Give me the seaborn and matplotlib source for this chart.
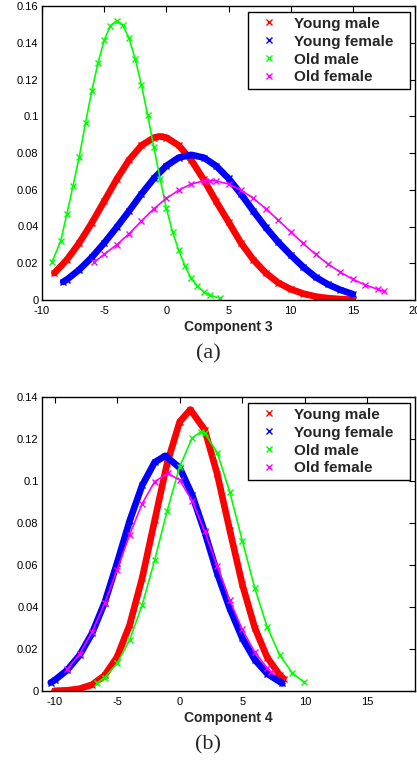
import matplotlib
matplotlib.use("Agg")
import matplotlib.pyplot as plt
from matplotlib.lines import Line2D
import pandas as pd
import seaborn as sns

groups = ["Young male", "Young female", "Old male", "Old female"]
colors = ["#ff0000", "#0000ff", "#00ff00", "#ff00ff"]

# (a) Component 3
a_ym_x = [-9, -8, -7, -6, -5, -4, -3, -2, -1, -0.5, 0, 1, 2, 3, 4, 5, 6, 7, 8, 9, 10, 11, 12, 13, 14, 15]
a_ym_y = [0.0147, 0.0219, 0.0311, 0.0419, 0.0537, 0.0656, 0.0762, 0.0841, 0.0884, 0.089, 0.0884, 0.0841, 0.0762,
          0.0656, 0.0537, 0.0425, 0.0311, 0.0219, 0.0147, 0.0094, 0.0059, 0.0035, 0.0019, 0.0010, 0.0005, 0.0002]
a_yf_x = [-8.3, -8, -7, -6, -5, -4, -3, -2, -1, 0, 1, 2, 3, 4, 5, 6, 7, 8, 9, 10, 11, 12, 13, 14, 15]
a_yf_y = [0.0099, 0.0111, 0.0165, 0.0232, 0.0310, 0.0395, 0.0484, 0.0577, 0.0662, 0.0730, 0.0775, 0.0790, 0.0775,
          0.0730, 0.0662, 0.0577, 0.0484, 0.0395, 0.0315, 0.0245, 0.0180, 0.0125, 0.0085, 0.0055, 0.0032]
a_om_x = [-9.2, -8.5, -8, -7.5, -7, -6.5, -6, -5.5, -5, -4.5, -4, -3.5, -3, -2.5, -2, -1.5, -1, -0.5, 0,
          0.5, 1, 1.5, 2, 2.5, 3, 3.5, 4.3]
a_om_y = [0.0205, 0.0320, 0.0468, 0.0623, 0.0780, 0.0964, 0.1136, 0.1290, 0.1413, 0.1493, 0.152, 0.1495, 0.1425,
          0.1310, 0.1170, 0.1005, 0.0830, 0.0660, 0.0500, 0.0370, 0.0270, 0.0185, 0.0118, 0.0075, 0.0045, 0.0027, 0.0010]
a_of_x = [-5.8, -5, -4, -3, -2, -1, 0, 1, 2, 3, 3.5, 4, 5, 6, 7, 8, 9, 10, 11, 12, 13, 14, 15, 16, 17, 17.5]
a_of_y = [0.0206, 0.0249, 0.0300, 0.0360, 0.0430, 0.0497, 0.0553, 0.0598, 0.0631, 0.0648, 0.065, 0.0648, 0.0631,
          0.0598, 0.0553, 0.0497, 0.0435, 0.0371, 0.0308, 0.0249, 0.0196, 0.0151, 0.0113, 0.0082, 0.0058, 0.0048]

# (b) Component 4
b_ym_x = [-10, -9, -8, -7, -6, -5, -4, -3, -2, -1, 0, 0.85, 2, 3, 4, 5, 6, 7, 8, 8.3]
b_ym_y = [0.0001, 0.0003, 0.0011, 0.0030, 0.0074, 0.0162, 0.0314, 0.0537, 0.0812, 0.1085, 0.1282, 0.134,
          0.1244, 0.1033, 0.0766, 0.0508, 0.0301, 0.0159, 0.0075, 0.0059]
b_yf_x = [-10.3, -10, -9, -8, -7, -6, -5, -4, -3, -2, -1.15, 0, 1, 2, 3, 4, 5, 6, 7, 8.2]
b_yf_y = [0.0040, 0.0051, 0.0099, 0.0170, 0.0275, 0.0420, 0.0610, 0.0810, 0.0979, 0.1089, 0.112, 0.1063,
          0.0933, 0.0757, 0.0560, 0.0393, 0.0252, 0.0149, 0.0082, 0.0036]
b_om_x = [-6.6, -6, -5, -4, -3, -2, -1, 0, 1, 1.7, 2, 3, 4, 5, 6, 7, 8, 9, 9.9]
b_om_y = [0.0039, 0.0064, 0.0131, 0.0243, 0.0409, 0.0623, 0.0858, 0.1069, 0.1205, 0.1235, 0.1229, 0.1135,
          0.0948, 0.0716, 0.0490, 0.0303, 0.0170, 0.0086, 0.0043]
b_of_x = [-9, -8, -7, -6, -5, -4, -3, -2, -0.95, 0, 1, 2, 3, 4, 5, 6, 7, 7.3]
b_of_y = [0.0103, 0.0176, 0.0281, 0.0417, 0.0577, 0.0744, 0.0892, 0.0997, 0.1037, 0.1004, 0.0905, 0.0760,
          0.0594, 0.0432, 0.0293, 0.0185, 0.0109, 0.0090]

a_xticks = [-10, -5, 0, 5, 10, 15, 20]
a_yticks = [0, 0.02, 0.04, 0.06, 0.08, 0.1, 0.12, 0.14, 0.16]
b_xticks = [-10, -5, 0, 5, 10, 15]
b_yticks = [0, 0.02, 0.04, 0.06, 0.08, 0.1, 0.12, 0.14]


def panel_frame(xs, ys):
    parts = [pd.DataFrame({"x": x, "y": y, "group": g}) for g, x, y in zip(groups, xs, ys)]
    return pd.concat(parts, ignore_index=True)


df_a = panel_frame([a_ym_x, a_yf_x, a_om_x, a_of_x], [a_ym_y, a_yf_y, a_om_y, a_of_y])
df_b = panel_frame([b_ym_x, b_yf_x, b_om_x, b_of_x], [b_ym_y, b_yf_y, b_om_y, b_of_y])

sns.set_style("white")
plt.rcParams["font.family"] = ["Liberation Sans", "DejaVu Sans"]


def draw(ax, df, xlim, ylim, xticks, yticks, xlabel):
    for g, c in zip(groups, colors):
        sub = df[df["group"] == g]
        lw = 4.8 if g.startswith("Young") else 1.2
        sns.lineplot(data=sub, x="x", y="y", ax=ax, color=c, lw=lw, marker="x",
                     markersize=4, markeredgewidth=1, markeredgecolor=c,
                     sort=False, estimator=None, legend=False,
                     solid_joinstyle="round", solid_capstyle="round")
    ax.set_xlim(*xlim)
    ax.set_ylim(*ylim)
    ax.set_xticks(xticks)
    ax.set_xticklabels([f"{v:g}" for v in xticks])
    ax.set_yticks(yticks)
    ax.set_yticklabels([f"{v:g}" for v in yticks])
    ax.tick_params(direction="in", top=True, right=True, length=4, width=0.8,
                   labelsize=8, colors="black")
    ax.tick_params(axis="x", pad=4)
    ax.tick_params(axis="y", pad=2.5)
    for s in ax.spines.values():
        s.set_visible(True)
        s.set_color("black")
        s.set_linewidth(1.0)
    ax.set_xlabel(xlabel, fontsize=10, fontweight="bold", labelpad=3)
    ax.set_ylabel("")
    handles = [Line2D([], [], color=c, marker="x", linestyle="none", markersize=4, markeredgewidth=1)
               for c in colors]
    leg = ax.legend(handles, groups, loc="upper left", bbox_to_anchor=(0.552, 0.9796, 0.4346, 0.0),
                    mode="expand", prop={"weight": "bold", "size": 11},
                    frameon=True, fancybox=False, framealpha=1, edgecolor="black",
                    borderaxespad=0, handlelength=2.2, handletextpad=0.55,
                    labelspacing=0.26, borderpad=0.3)
    leg.get_frame().set_linewidth(1.0)


fig = plt.figure(figsize=(4.17, 7.63), dpi=100)
ax_a = fig.add_axes([42 / 417, 1 - 300 / 763, 373 / 417, 294 / 763])
ax_b = fig.add_axes([42 / 417, 1 - 691 / 763, 373 / 417, 294 / 763])

draw(ax_a, df_a, (-10, 20), (0, 0.16), a_xticks, a_yticks, "Component 3")
draw(ax_b, df_b, (-11, 18.8), (0, 0.14), b_xticks, b_yticks, "Component 4")

fig.text(0.5, 1 - 354 / 763, "(a)", ha="center", va="center", family=["Liberation Serif"], fontsize=16)
fig.text(0.5, 1 - 745 / 763, "(b)", ha="center", va="center", family=["Liberation Serif"], fontsize=16)

fig.savefig("out.png", dpi=100)
